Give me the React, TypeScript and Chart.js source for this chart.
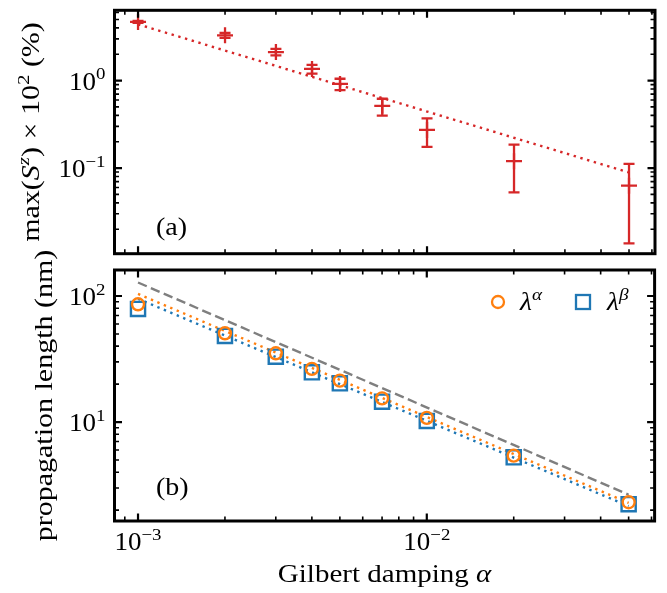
import React, { useEffect, useRef } from 'react';
import { Chart, registerables } from 'chart.js';
Chart.register(...registerables);

const FONT = '"Liberation Serif", "Times New Roman", serif';
const RED = '#d62728';
const ORANGE = '#ff7f0e';
const BLUE = '#1f77b4';
const GRAY = '#7f7f7f';

// ---- data ----
const alpha = [0.001, 0.002, 0.003, 0.004, 0.005, 0.007, 0.01, 0.02, 0.05];
const szMax = [4.68, 3.29, 2.12, 1.36, 0.917, 0.514, 0.273, 0.12, 0.063];
const szLow = [4.56, 3.08, 1.94, 1.2, 0.78, 0.398, 0.175, 0.0527, 0.0138];
const szHigh = [4.8, 3.5, 2.31, 1.51, 1.05, 0.62, 0.369, 0.185, 0.1116];
const fitAlpha = [0.001, 0.05];
const szFit = [4.4, 0.089];
const lamA = [85.9, 50.6, 35.1, 26.4, 21.3, 15.4, 10.8, 5.41, 2.31];
const lamB = [78.9, 48.2, 33.0, 24.8, 20.3, 14.5, 10.2, 5.25, 2.23];
const lamAFit = [104, 2.28];
const lamBFit = [95, 2.15];
const lamRef = [128, 2.65];

const xTickVals = [1e-3, 1e-2];
const xTickLabels = [['10', '−3'], ['10', '−2']];
const topYTickVals = [0.1, 1];
const topYTickLabels = [['10', '−1'], ['10', '0']];
const botYTickVals = [10, 100];
const botYTickLabels = [['10', '1'], ['10', '2']];

const X_MIN = 8.29e-4;
const X_MAX = 0.0615;

type Seg = { t: string; it?: boolean; sup?: boolean };
const SIZE = 25;

function segFont(s: Seg, size: number) {
  const sz = s.sup ? size * 0.7 : size;
  return `${s.it ? 'italic ' : ''}${sz}px ${FONT}`;
}
function richWidth(ctx: CanvasRenderingContext2D, segs: Seg[], size: number) {
  let w = 0;
  for (const s of segs) {
    ctx.font = segFont(s, size);
    w += ctx.measureText(s.t).width;
  }
  return w;
}
function drawRich(
  ctx: CanvasRenderingContext2D,
  segs: Seg[],
  x: number,
  y: number,
  size: number,
  align: 'left' | 'center' | 'right',
  sx = 1
) {
  const w = richWidth(ctx, segs, size) * sx;
  const start = align === 'center' ? x - w / 2 : align === 'right' ? x - w : x;
  ctx.save();
  ctx.translate(start, y);
  ctx.scale(sx, 1);
  ctx.textAlign = 'left';
  ctx.textBaseline = 'alphabetic';
  let cx = 0;
  for (const s of segs) {
    ctx.font = segFont(s, size);
    ctx.fillText(s.t, cx, s.sup ? -size * 0.42 : 0);
    cx += ctx.measureText(s.t).width;
  }
  ctx.restore();
}

function tickList(min: number, max: number) {
  const out: { v: number; major: boolean }[] = [];
  for (let e = Math.floor(Math.log10(min)); e <= Math.ceil(Math.log10(max)); e++) {
    for (let m = 1; m < 10; m++) {
      const v = m * Math.pow(10, e);
      if (v >= min * 0.9999 && v <= max * 1.0001) out.push({ v, major: m === 1 });
    }
  }
  return out;
}

function drawFrame(chart: any) {
  const { ctx, chartArea: a, scales } = chart;
  const xs = scales.x;
  const ys = scales.y;
  ctx.save();
  ctx.strokeStyle = '#000';
  for (const t of tickList(xs.min, xs.max)) {
    const px = xs.getPixelForValue(t.v);
    const len = t.major ? 7.5 : 4.5;
    ctx.lineWidth = t.major ? 2.2 : 1.6;
    ctx.beginPath();
    ctx.moveTo(px, a.bottom);
    ctx.lineTo(px, a.bottom - len);
    ctx.moveTo(px, a.top);
    ctx.lineTo(px, a.top + len);
    ctx.stroke();
  }
  for (const t of tickList(ys.min, ys.max)) {
    const py = ys.getPixelForValue(t.v);
    const len = t.major ? 7.5 : 4.5;
    ctx.lineWidth = t.major ? 2.2 : 1.6;
    ctx.beginPath();
    ctx.moveTo(a.left, py);
    ctx.lineTo(a.left + len, py);
    ctx.moveTo(a.right, py);
    ctx.lineTo(a.right - len, py);
    ctx.stroke();
  }
  ctx.lineWidth = 3;
  ctx.strokeRect(a.left, a.top, a.right - a.left, a.bottom - a.top);
  ctx.restore();
}

const TICK_SX = 1.08;
const TITLE_SX = 1.2;

function drawYTickLabels(chart: any, vals: number[], labels: string[][]) {
  const { ctx, chartArea: a, scales } = chart;
  ctx.save();
  ctx.fillStyle = '#000';
  vals.forEach((v, i) => {
    const py = scales.y.getPixelForValue(v);
    drawRich(ctx, [{ t: labels[i][0] }, { t: labels[i][1], sup: true }], a.left - 9, py + 9, SIZE, 'right', TICK_SX);
  });
  ctx.restore();
}

const topPlugin = {
  id: 'topDecor',
  afterDatasetsDraw(chart: any) {
    const { ctx, scales } = chart;
    ctx.save();
    ctx.strokeStyle = RED;
    ctx.lineWidth = 2.3;
    alpha.forEach((a, i) => {
      const px = scales.x.getPixelForValue(a);
      const yl = scales.y.getPixelForValue(szLow[i]);
      const yh = scales.y.getPixelForValue(szHigh[i]);
      ctx.beginPath();
      ctx.moveTo(px, yl);
      ctx.lineTo(px, yh);
      ctx.moveTo(px - 5.5, yl);
      ctx.lineTo(px + 5.5, yl);
      ctx.moveTo(px - 5.5, yh);
      ctx.lineTo(px + 5.5, yh);
      ctx.stroke();
    });
    ctx.restore();
  },
  afterDraw(chart: any) {
    const { ctx, chartArea: a } = chart;
    drawFrame(chart);
    drawYTickLabels(chart, topYTickVals, topYTickLabels);
    ctx.save();
    ctx.fillStyle = '#000';
    drawRich(ctx, [{ t: '(a)' }], a.left + 41.5, 235, SIZE, 'left', 1.12);
    ctx.translate(39, (a.top + a.bottom) / 2);
    ctx.rotate(-Math.PI / 2);
    drawRich(
      ctx,
      [
        { t: 'max(' },
        { t: 'S', it: true },
        { t: 'z', it: true, sup: true },
        { t: ') × 10' },
        { t: '2', sup: true },
        { t: ' (%)' },
      ],
      0,
      0,
      SIZE,
      'center',
      TITLE_SX
    );
    ctx.restore();
  },
};

// bottom canvas starts at page y = BOT_TOP (overlapping the top canvas, both transparent)
const BOT_TOP = 236;
const BOT_H = 593 - BOT_TOP;

const botPlugin = {
  id: 'botDecor',
  afterDraw(chart: any) {
    const { ctx, chartArea: a, scales } = chart;
    drawFrame(chart);
    drawYTickLabels(chart, botYTickVals, botYTickLabels);
    ctx.save();
    ctx.fillStyle = '#000';
    xTickVals.forEach((v, i) => {
      const px = scales.x.getPixelForValue(v);
      drawRich(ctx, [{ t: xTickLabels[i][0] }, { t: xTickLabels[i][1], sup: true }], px, a.bottom + 29, SIZE, 'center', TICK_SX);
    });
    drawRich(ctx, [{ t: 'Gilbert damping ' }, { t: 'α', it: true }], (a.left + a.right) / 2, a.bottom + 61, SIZE, 'center', 1.16);
    drawRich(ctx, [{ t: '(b)' }], a.left + 41.5, a.top + 225, SIZE, 'left', 1.12);
    // legend
    const ly = a.top + 32;
    ctx.lineWidth = 2.3;
    ctx.strokeStyle = ORANGE;
    ctx.beginPath();
    ctx.arc(498, ly, 6, 0, Math.PI * 2);
    ctx.stroke();
    drawRich(ctx, [{ t: 'λ', it: true }, { t: 'α', it: true, sup: true }], 520, ly + 8, SIZE, 'left', 1.1);
    ctx.strokeStyle = BLUE;
    ctx.strokeRect(583 - 7, ly - 7, 14, 14);
    drawRich(ctx, [{ t: 'λ', it: true }, { t: 'β', it: true, sup: true }], 607, ly + 8, SIZE, 'left', 1.1);
    // y title
    ctx.translate(52, (a.top + a.bottom) / 2);
    ctx.rotate(-Math.PI / 2);
    drawRich(ctx, [{ t: 'propagation length (nm)' }], 0, 0, SIZE, 'center', TITLE_SX);
    ctx.restore();
  },
};

const pts = (xs: number[], ys: number[]) => xs.map((x, i) => ({ x, y: ys[i] }));

function useChart(ref: React.RefObject<HTMLCanvasElement>, build: () => any) {
  useEffect(() => {
    if (!ref.current) return;
    const c = new Chart(ref.current, build());
    return () => c.destroy();
  }, []);
}

export default function App() {
  const topRef = useRef<HTMLCanvasElement>(null);
  const botRef = useRef<HTMLCanvasElement>(null);

  useChart(topRef, () => ({
    type: 'scatter',
    data: {
      datasets: [
        {
          data: pts(alpha, szMax),
          pointStyle: 'cross',
          pointRadius: 8,
          borderColor: RED,
          borderWidth: 2.3,
          showLine: false,
          order: 0,
        },
        {
          data: pts(fitAlpha, szFit),
          showLine: true,
          pointRadius: 0,
          borderColor: RED,
          borderWidth: 2.4,
          borderDash: [2.4, 4.6],
          order: 1,
        },
      ],
    },
    options: {
      animation: false,
      responsive: false,
      devicePixelRatio: 1,
      layout: { padding: { left: 114.5, right: 12, top: 7, bottom: 6.5 } },
      plugins: { legend: { display: false }, tooltip: { enabled: false } },
      scales: {
        x: { type: 'logarithmic', min: X_MIN, max: X_MAX, display: false },
        y: { type: 'logarithmic', min: 0.0105, max: 6.36, display: false },
      },
    },
    plugins: [topPlugin],
  }));

  useChart(botRef, () => ({
    type: 'scatter',
    data: {
      datasets: [
        {
          data: pts(alpha, lamA),
          pointStyle: 'circle',
          pointRadius: 6,
          borderColor: ORANGE,
          backgroundColor: 'rgba(0,0,0,0)',
          borderWidth: 2.4,
          showLine: false,
          order: 0,
        },
        {
          data: pts(alpha, lamB),
          pointStyle: 'rect',
          pointRadius: 10,
          borderColor: BLUE,
          backgroundColor: 'rgba(0,0,0,0)',
          borderWidth: 2.4,
          showLine: false,
          order: 1,
        },
        {
          data: pts(fitAlpha, lamAFit),
          showLine: true,
          pointRadius: 0,
          borderColor: ORANGE,
          borderWidth: 2.4,
          borderDash: [2.4, 4.6],
          order: 2,
        },
        {
          data: pts(fitAlpha, lamBFit),
          showLine: true,
          pointRadius: 0,
          borderColor: BLUE,
          borderWidth: 2.4,
          borderDash: [2.4, 4.6],
          order: 3,
        },
        {
          data: pts(fitAlpha, lamRef),
          showLine: true,
          pointRadius: 0,
          borderColor: GRAY,
          borderWidth: 2.4,
          borderDash: [9.5, 4.5],
          order: 4,
        },
      ],
    },
    options: {
      animation: false,
      responsive: false,
      devicePixelRatio: 1,
      layout: { padding: { left: 114.5, right: 12, top: 270 - BOT_TOP, bottom: 72 } },
      plugins: { legend: { display: false }, tooltip: { enabled: false } },
      scales: {
        x: { type: 'logarithmic', min: X_MIN, max: X_MAX, display: false },
        y: { type: 'logarithmic', min: 1.64, max: 160.8, display: false },
      },
    },
    plugins: [botPlugin],
  }));

  return (
    <div style={{ position: 'absolute', left: 0, top: 0, width: 667, height: 593, background: '#fff' }}>
      <canvas ref={topRef} width={667} height={264} style={{ position: 'absolute', left: 0, top: 0, width: 667, height: 264 }} />
      <canvas ref={botRef} width={667} height={BOT_H} style={{ position: 'absolute', left: 0, top: BOT_TOP, width: 667, height: BOT_H }} />
    </div>
  );
}
